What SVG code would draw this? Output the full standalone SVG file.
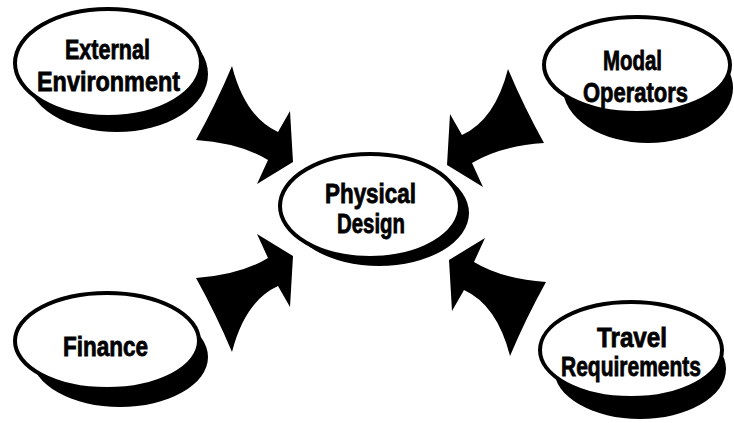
<svg xmlns="http://www.w3.org/2000/svg" width="734" height="423" viewBox="0 0 734 423">
  <style>
    .shadow { fill: #000; }
    .bubble { fill: #fff; stroke: #000; stroke-width: 4; }
    .label { font-family: "Liberation Sans", Arial, sans-serif; font-weight: bold; font-size: 27px; fill: #000; stroke: #000; stroke-width: 0.8; }
    .swoosh { fill: #000; }
  </style>
  <defs>
    <!-- curved fan-tailed arrow, drawn pointing to the lower right -->
    <path id="swoosh" d="M232,66 Q245,117 278,132 L290,111 L293,162 L257,184 L268,160 Q240,143 196,140 Q216,104 232,66 Z"/>
  </defs>
  <rect width="734" height="423" fill="#fff"/>

  <g id="connectors" class="swoosh">
    <use href="#swoosh"/>
    <use href="#swoosh" transform="matrix(-1,0,0,1,740,3)"/>
    <use href="#swoosh" transform="matrix(1,0,0,-1,0,418)"/>
    <use href="#swoosh" transform="matrix(-1,0,0,-1,742,422)"/>
  </g>

  <g id="external-environment">
    <ellipse class="shadow" cx="117" cy="74" rx="91" ry="58"/>
    <ellipse class="bubble" cx="108" cy="63" rx="93" ry="54"/>
    <text class="label" x="65" y="59" textLength="85" lengthAdjust="spacingAndGlyphs">External</text>
    <text class="label" x="37" y="91" textLength="143" lengthAdjust="spacingAndGlyphs">Environment</text>
  </g>

  <g id="modal-operators">
    <ellipse class="shadow" cx="648" cy="88" rx="85" ry="55"/>
    <ellipse class="bubble" cx="637" cy="65" rx="93" ry="48"/>
    <text class="label" x="603" y="70" textLength="59" lengthAdjust="spacingAndGlyphs">Modal</text>
    <text class="label" x="583" y="102" textLength="105" lengthAdjust="spacingAndGlyphs">Operators</text>
  </g>

  <g id="physical-design">
    <ellipse class="shadow" cx="379" cy="213" rx="90" ry="53"/>
    <ellipse class="bubble" cx="370" cy="206" rx="90" ry="52"/>
    <text class="label" x="325" y="203" textLength="91" lengthAdjust="spacingAndGlyphs">Physical</text>
    <text class="label" x="337" y="233" textLength="68" lengthAdjust="spacingAndGlyphs">Design</text>
  </g>

  <g id="finance">
    <ellipse class="shadow" cx="120" cy="357" rx="88" ry="50"/>
    <ellipse class="bubble" cx="107" cy="341" rx="92" ry="48"/>
    <text class="label" x="63" y="356" textLength="85" lengthAdjust="spacingAndGlyphs">Finance</text>
  </g>

  <g id="travel-requirements">
    <ellipse class="shadow" cx="640" cy="369" rx="86" ry="50"/>
    <ellipse class="bubble" cx="631" cy="350" rx="91" ry="48"/>
    <text class="label" x="597" y="347" textLength="70" lengthAdjust="spacingAndGlyphs">Travel</text>
    <text class="label" x="561" y="376" textLength="140" lengthAdjust="spacingAndGlyphs">Requirements</text>
  </g>
</svg>
